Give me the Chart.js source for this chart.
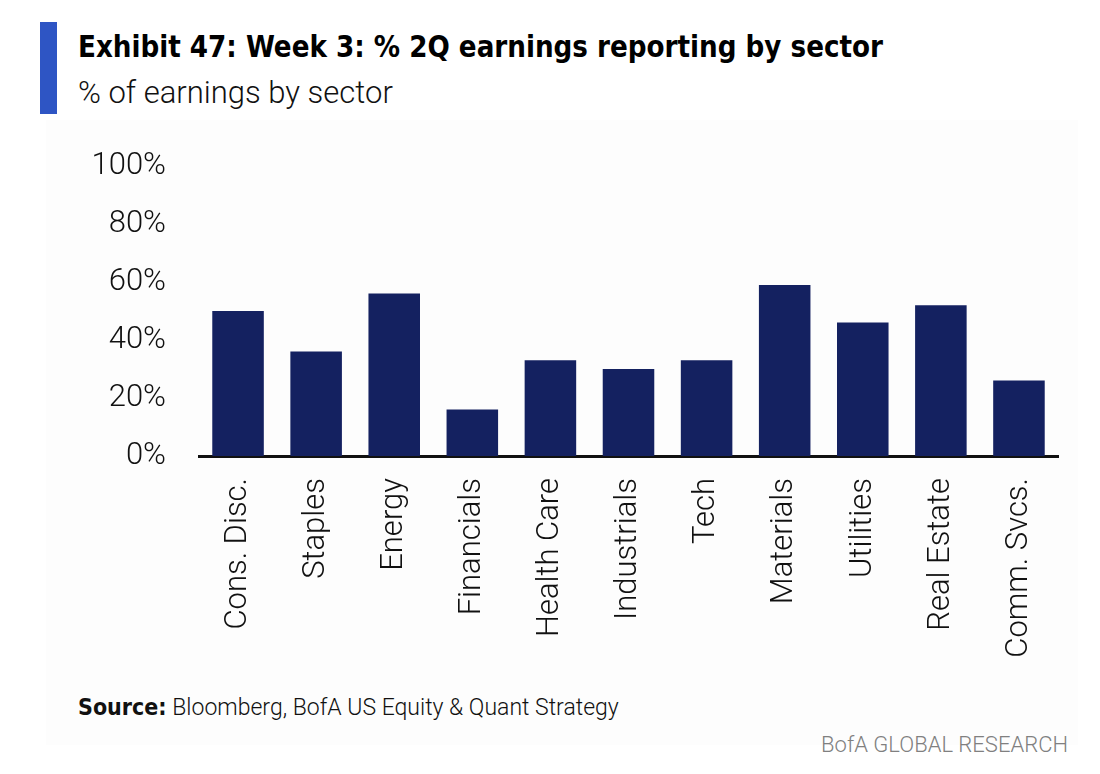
<!DOCTYPE html>
<html>
<head>
<meta charset="utf-8">
<script src="https://cdn.jsdelivr.net/npm/chart.js@4"></script>
<style>
	html, body { margin: 0; padding: 0; background: #fff; }
	body { width: 1100px; height: 774px; position: relative; overflow: hidden;
		font-family: "Roboto", "DejaVu Sans Condensed", sans-serif; font-weight: 300; }
	.bar { position: absolute; left: 40px; top: 22px; width: 17px; height: 92px; background: #2e55c4; }
	.title { position: absolute; left: 78px; top: 28px; font-size: 31px; font-weight: bold; color: #000; white-space: nowrap;
		font-family: "DejaVu Sans Condensed", sans-serif; transform: scaleX(0.94); transform-origin: left top; }
	.subtitle { position: absolute; left: 78px; top: 74px; font-size: 31px; color: #111; white-space: nowrap; }
	.panel { position: absolute; left: 46px; top: 120px; width: 1032px; height: 625px; background: #fdfdfd; }
	.chart { position: absolute; left: 0; top: 130px; width: 1100px; height: 550px; }
	.source { position: absolute; left: 78px; top: 694px; font-size: 23px; color: #111; white-space: nowrap; }
	.source b { font-weight: bold; font-family: "DejaVu Sans Condensed", sans-serif; }
	.brand { position: absolute; right: 32px; top: 732px; font-size: 22px; color: #808080; white-space: nowrap; }
</style>
</head>
<body>
	<div class="panel"></div>
	<div class="bar"></div>
	<div class="title">Exhibit 47: Week 3: % 2Q earnings reporting by sector</div>
	<div class="subtitle">% of earnings by sector</div>
	<div class="chart"><canvas id="graph_sectors"></canvas></div>
	<div class="source"><b>Source:</b> Bloomberg, BofA US Equity &amp; Quant Strategy</div>
	<div class="brand">BofA GLOBAL RESEARCH</div>

<script>
	const sectors = ['Cons. Disc.', 'Staples', 'Energy', 'Financials', 'Health Care', 'Industrials',
		'Tech', 'Materials', 'Utilities', 'Real Estate', 'Comm. Svcs.'];
	const reportedPct = [50, 36, 56, 16, 33, 30, 33, 59, 46, 52, 26];
	const yTicks = [0, 20, 40, 60, 80, 100];

	const tickFont = {
		family: '"Roboto", "DejaVu Sans Condensed", sans-serif',
		weight: 300,
		size: 31
	};

	new Chart(document.querySelector('#graph_sectors'), {
		type: 'bar',
		data: {
			labels: sectors,
			datasets: [{
				data: reportedPct,
				backgroundColor: '#142160',
				borderWidth: 0,
				categoryPercentage: 1,
				barPercentage: 0.66,
			}]
		},
		options: {
			animation: false,
			maintainAspectRatio: false,
			layout: {
				padding: { left: 0, right: 42, top: 36, bottom: 0 }
			},
			plugins: {
				legend: { display: false },
				tooltip: { enabled: false },
			},
			scales: {
				x: {
					grid: { display: false, drawTicks: false },
					border: { display: true, color: '#111', width: 3 },
					ticks: {
						color: '#111',
						font: tickFont,
						minRotation: 90,
						maxRotation: 90,
						autoSkip: false,
						padding: 22,
					},
					afterFit: (scale) => { scale.height = 224; },
				},
				y: {
					min: 0,
					max: 100,
					grid: { display: false, drawTicks: false },
					border: { display: false },
					afterBuildTicks: (scale) => { scale.ticks = yTicks.map(v => ({ value: v })); },
					ticks: {
						color: '#111',
						font: tickFont,
						padding: 33,
						callback: (v) => v + '%',
					},
					afterFit: (scale) => {
						scale.width = 199;
						scale.paddingTop = 0;
						scale.paddingBottom = 0;
					},
				},
			},
		}
	});
</script>
</body>
</html>
